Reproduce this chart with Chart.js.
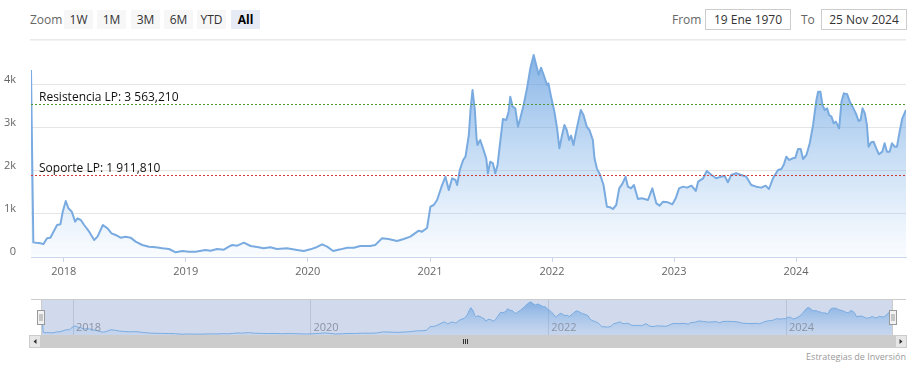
<!DOCTYPE html>
<html><head><meta charset="utf-8">
<script src="https://cdn.jsdelivr.net/npm/chart.js@4.4.1/dist/chart.umd.min.js"></script>
<style>
html,body{margin:0;padding:0;background:#fff;width:921px;height:369px;overflow:hidden;font-family:"Open Sans",sans-serif;}
#wrap{position:relative;width:921px;height:369px;}
.lbl{position:absolute;top:10px;color:#666;font-size:12px;line-height:19px;}
.btn{position:absolute;top:10px;height:19px;width:29px;background:#f7f7f7;color:#333;font-size:12px;line-height:19px;text-align:center;}
.btn.sel{background:#e6ebf5;font-weight:bold;color:#000;}
.inp{position:absolute;top:9px;height:19px;border:1px solid #ccc;color:#333;font-size:12px;line-height:19px;text-align:center;box-sizing:content-box;}
#sep{position:absolute;left:30px;width:876px;top:39px;height:2px;background:linear-gradient(#e4e4e4,#f7f7f7);}
#credit{position:absolute;right:15px;top:350px;font-size:9px;color:#999;}
canvas{position:absolute;left:0;}
</style></head>
<body><div id="wrap">
<div class="lbl" style="left:30px">Zoom</div>
<div class="btn" style="left:64px">1W</div>
<div class="btn" style="left:97px">1M</div>
<div class="btn" style="left:131px">3M</div>
<div class="btn" style="left:164px">6M</div>
<div class="btn" style="left:197px">YTD</div>
<div class="btn sel" style="left:231px">All</div>
<div class="lbl" style="left:672px">From</div>
<div class="inp" style="left:705px;width:84px">19 Ene 1970</div>
<div class="lbl" style="left:801px">To</div>
<div class="inp" style="left:821px;width:84px">25 Nov 2024</div>
<div id="sep"></div>
<canvas id="main" width="921" height="250" style="top:40px"></canvas>
<canvas id="nav" width="921" height="55" style="top:295px"></canvas>
<div id="credit">Estrategias de Inversión</div>
</div>
<script>
// ---- data ----
const dates = [
'2017-09-25','2017-10-02','2017-10-11','2017-10-23','2017-11-01','2017-11-12','2017-11-22','2017-12-12','2017-12-22','2017-12-29',
'2018-01-07','2018-01-15','2018-01-25','2018-02-04','2018-02-11','2018-02-21','2018-03-03','2018-03-18','2018-04-02','2018-04-12',
'2018-04-28','2018-05-12','2018-05-24','2018-06-05','2018-06-20','2018-07-05','2018-07-20','2018-08-04','2018-08-24','2018-09-13',
'2018-10-03','2018-10-23','2018-11-12','2018-12-02','2018-12-22',
'2019-01-10','2019-01-30','2019-03-01','2019-03-16','2019-04-05','2019-04-25','2019-05-10','2019-05-20','2019-06-04','2019-06-24',
'2019-07-14','2019-08-03','2019-08-22','2019-09-11','2019-10-01','2019-10-31','2019-11-30','2019-12-20',
'2020-01-09','2020-01-29','2020-02-13','2020-02-28','2020-03-17','2020-04-08','2020-04-28','2020-05-18','2020-06-06','2020-07-06',
'2020-07-21','2020-08-10','2020-08-30','2020-09-24','2020-10-14','2020-11-03','2020-11-28','2020-12-08','2020-12-23',
'2021-01-02','2021-01-12','2021-01-22','2021-01-27','2021-02-06','2021-02-16','2021-02-26','2021-03-08','2021-03-18','2021-03-23',
'2021-03-31','2021-04-10','2021-04-17','2021-04-27','2021-05-02','2021-05-08','2021-05-15','2021-05-20','2021-05-23','2021-05-31',
'2021-06-10','2021-06-18','2021-06-23','2021-06-30','2021-07-08','2021-07-15','2021-07-22','2021-07-30','2021-08-07','2021-08-17',
'2021-08-24','2021-08-29','2021-09-05','2021-09-13','2021-09-21','2021-09-28','2021-10-08','2021-10-18','2021-10-28','2021-11-07',
'2021-11-17','2021-11-22','2021-11-29','2021-12-07','2021-12-17','2021-12-21','2021-12-29',
'2022-01-08','2022-01-16','2022-01-23','2022-01-31','2022-02-07','2022-02-14','2022-02-21','2022-02-27','2022-03-06','2022-03-16',
'2022-03-28','2022-04-05','2022-04-15','2022-04-23','2022-05-03','2022-05-08','2022-05-15','2022-05-25','2022-06-04','2022-06-14',
'2022-06-24','2022-07-02','2022-07-12','2022-07-21','2022-07-31','2022-08-09','2022-08-16','2022-08-25','2022-09-03','2022-09-15',
'2022-09-26','2022-10-05','2022-10-15','2022-10-28','2022-11-09','2022-11-19','2022-11-29','2022-12-14','2022-12-27',
'2023-01-06','2023-01-16','2023-01-28','2023-02-09','2023-02-22','2023-03-07','2023-03-14','2023-03-29','2023-04-09','2023-04-23',
'2023-05-07','2023-05-22','2023-06-01','2023-06-11','2023-06-21','2023-07-06','2023-07-21','2023-08-05','2023-08-20','2023-09-04',
'2023-09-19','2023-10-02','2023-10-12','2023-10-24','2023-11-08','2023-11-18','2023-11-25','2023-12-03','2023-12-11','2023-12-22','2023-12-30',
'2024-01-07','2024-01-15','2024-01-22','2024-02-01','2024-02-11','2024-02-21','2024-03-02','2024-03-07','2024-03-14','2024-03-20',
'2024-03-27','2024-04-03','2024-04-09','2024-04-16','2024-04-23','2024-04-29','2024-05-09','2024-05-16','2024-05-23','2024-06-02',
'2024-06-10','2024-06-18','2024-06-28','2024-07-06','2024-07-12','2024-07-18','2024-07-25','2024-07-31','2024-08-05','2024-08-13',
'2024-08-20','2024-08-28','2024-09-05','2024-09-15','2024-09-22','2024-09-29','2024-10-07','2024-10-14','2024-10-22','2024-10-29',
'2024-11-06','2024-11-14','2024-11-25'
];
const values = [
4350,340,330,320,300,434,449,744,760,1053,
1302,1132,1054,822,899,860,744,589,395,473,
744,667,550,512,450,473,450,357,279,240,
225,202,186,109,140,
124,124,163,147,186,171,240,279,264,333,
256,233,202,225,186,202,163,140,
178,233,295,240,140,178,217,217,256,256,
279,434,419,372,419,473,612,589,675,
1170,1209,1326,1442,1674,1868,1558,1830,1791,1674,
2023,2256,2333,2837,3419,3884,3419,2760,2605,2721,
2488,2295,1946,2216,2179,1946,2140,2682,3209,3186,
3380,3729,3496,3457,3031,3225,3535,3922,4388,4698,
4388,4233,4403,4233,4000,4039,3729,
3380,2992,2527,2837,3070,2953,2721,2822,2605,2992,
3419,3302,3031,2953,2721,2295,2062,1907,1674,1170,
1155,1116,1209,1597,1713,1868,1636,1597,1674,1349,
1365,1349,1326,1597,1248,1194,1287,1271,1225,
1365,1597,1636,1613,1659,1535,1752,1830,2000,1907,
1830,1868,1891,1737,1907,1946,1907,1868,1674,1636,
1613,1659,1581,1830,2023,2047,2140,2333,2256,2295,2310,
2512,2512,2279,2372,2644,3070,3651,3845,3845,3535,
3419,3457,3302,3263,3109,3147,2992,3612,3806,3783,
3612,3496,3341,3163,3186,3457,3341,3070,2566,2667,
2682,2527,2388,2450,2644,2450,2450,2644,2566,2566,
2914,3225,3419
];
const yearTicks = [2018, 2019, 2020, 2021, 2022, 2023, 2024];
const navYearTicks = [2018, 2020, 2022, 2024];
const yTickValues = [0, 1000, 2000, 3000, 4000];
const yTickLabels = ['0', '1k', '2k', '3k', '4k'];
const levelNames = ['Resistencia LP', 'Soporte LP'];
const levelValues = [3563.21, 1911.81];
const levelColors = ['#4f9a30', '#d03a3a'];

// ---- helpers ----
const FONT = '"Open Sans", sans-serif';
const toTs = s => { const [y, m, d] = s.split('-').map(Number); return Date.UTC(y, m - 1, d); };
const ts = dates.map(toTs);
const points = ts.map((t, i) => ({ x: t, y: values[i] }));
const xMin = ts[0], xMax = ts[ts.length - 1];
function fmtNum(v) {
  const [i, f] = v.toFixed(3).split('.');
  return i.replace(/\B(?=(\d{3})+(?!\d))/g, ' ') + ',' + f;
}

const levelPlugin = {
  id: 'levels',
  afterDatasetsDraw(chart) {
    const { ctx, chartArea: a, scales: { y } } = chart;
    levelValues.forEach((v, i) => {
      const py = Math.round(y.getPixelForValue(v)) + 0.5;
      ctx.save();
      ctx.strokeStyle = levelColors[i];
      ctx.lineWidth = 1;
      ctx.setLineDash([2, 2]);
      ctx.beginPath(); ctx.moveTo(a.left, py); ctx.lineTo(a.right, py); ctx.stroke();
      ctx.setLineDash([]);
      ctx.fillStyle = '#111';
      ctx.font = '12px ' + FONT;
      ctx.textBaseline = 'alphabetic';
      ctx.fillText(levelNames[i] + ': ' + fmtNum(v), a.left + 8, py - 4);
      ctx.restore();
    });
  }
};

new Chart(document.getElementById('main'), {
  type: 'line',
  data: { datasets: [{
    data: points, borderColor: '#7aabe0', borderWidth: 2, pointRadius: 0, tension: 0,
    borderJoinStyle: 'round', fill: 'origin',
    backgroundColor: (c) => {
      const a = c.chart.chartArea; if (!a) return 'rgba(124,181,236,0.4)';
      const g = c.chart.ctx.createLinearGradient(0, a.top, 0, a.bottom);
      g.addColorStop(0, 'rgba(80,145,218,0.72)');
      g.addColorStop(1, 'rgba(124,181,236,0.04)');
      return g;
    }
  }] },
  options: {
    responsive: false, animation: false, events: [],
    layout: { padding: { top: 5, right: 15, left: 0, bottom: 0 } },
    plugins: { legend: { display: false }, tooltip: { enabled: false } },
    scales: {
      x: {
        type: 'linear', min: xMin, max: xMax,
        afterBuildTicks: s => { s.ticks = yearTicks.map(y => ({ value: Date.UTC(y, 0, 1) })); },
        afterFit: s => { s.height = 33; s.paddingLeft = 0; s.paddingRight = 0; },
        ticks: { callback: (v, i) => String(yearTicks[i]), color: '#666', font: { family: FONT, size: 11 }, padding: 3, maxRotation: 0, autoSkip: false },
        grid: { display: true, drawOnChartArea: false, drawTicks: true, tickLength: 5, color: '#ccd6eb' },
        border: { display: true, color: '#ccd6eb' }
      },
      y: {
        min: 0, max: 4930,
        afterBuildTicks: s => { s.ticks = yTickValues.map(v => ({ value: v })); },
        afterFit: s => { s.width = 31; s.paddingTop = 0; s.paddingBottom = 0; },
        ticks: { callback: (v, i) => yTickLabels[i], color: '#666', font: { family: FONT, size: 11 }, padding: 15, labelOffset: -5 },
        grid: { color: '#e6e6e6', drawTicks: false },
        border: { display: false }
      }
    }
  },
  plugins: [levelPlugin]
});

// ---- navigator ----
const navPlugin = {
  id: 'nav',
  beforeDatasetsDraw(chart) {
    const { ctx, chartArea: a, scales: { x } } = chart;
    ctx.save();
    ctx.fillStyle = 'rgba(102,133,194,0.3)';
    ctx.fillRect(a.left, a.top, a.right - a.left, a.bottom - a.top);
    ctx.strokeStyle = 'rgba(80,90,120,0.18)';
    ctx.lineWidth = 1;
    navYearTicks.forEach(y => {
      const px = Math.round(x.getPixelForValue(Date.UTC(y, 0, 1))) + 0.5;
      ctx.beginPath(); ctx.moveTo(px, a.top); ctx.lineTo(px, a.bottom); ctx.stroke();
    });
    ctx.restore();
  },
  afterDatasetsDraw(chart) {
    const { ctx, chartArea: a, scales: { x } } = chart;
    ctx.save();
    ctx.fillStyle = '#8a93a6';
    ctx.font = '11px ' + FONT;
    ctx.textBaseline = 'alphabetic';
    navYearTicks.forEach(y => {
      const px = x.getPixelForValue(Date.UTC(y, 0, 1));
      ctx.fillText(String(y), px + 3, a.bottom - 4);
    });
    // outline
    ctx.strokeStyle = '#cccccc'; ctx.lineWidth = 1;
    ctx.beginPath();
    ctx.moveTo(31, a.top + 0.5); ctx.lineTo(906, a.top + 0.5);
    ctx.moveTo(a.left + 0.5, a.top); ctx.lineTo(a.left + 0.5, a.bottom);
    ctx.moveTo(a.right - 0.5, a.top); ctx.lineTo(a.right - 0.5, a.bottom);
    ctx.stroke();
    // handles
    [a.left, a.right].forEach(hx => {
      const l = Math.round(hx - 4) + 0.5, t = a.top + 11.5;
      ctx.fillStyle = '#f2f2f2'; ctx.strokeStyle = '#999';
      ctx.fillRect(l, t, 7, 14); ctx.strokeRect(l, t, 7, 14);
      ctx.beginPath();
      ctx.moveTo(l + 2.5, t + 3.5); ctx.lineTo(l + 2.5, t + 10.5);
      ctx.moveTo(l + 4.5, t + 3.5); ctx.lineTo(l + 4.5, t + 10.5);
      ctx.stroke();
    });
    // scrollbar
    const sy = a.bottom, sh = 13;
    ctx.fillStyle = '#cccccc';
    ctx.fillRect(29, sy, 878, sh);
    ctx.fillStyle = '#e6e6e6';
    ctx.fillRect(29, sy, 12, sh);
    ctx.fillRect(895, sy, 12, sh);
    ctx.strokeStyle = '#cccccc';
    ctx.strokeRect(29.5, sy + 0.5, 11, sh - 1);
    ctx.strokeRect(895.5, sy + 0.5, 11, sh - 1);
    ctx.fillStyle = '#333';
    ctx.beginPath(); ctx.moveTo(33.5, sy + 6.5); ctx.lineTo(36.5, sy + 4); ctx.lineTo(36.5, sy + 9); ctx.closePath(); ctx.fill();
    ctx.beginPath(); ctx.moveTo(902.5, sy + 6.5); ctx.lineTo(899.5, sy + 4); ctx.lineTo(899.5, sy + 9); ctx.closePath(); ctx.fill();
    ctx.strokeStyle = '#333';
    ctx.beginPath();
    [463.5, 465.5, 467.5].forEach(rx => { ctx.moveTo(rx, sy + 4); ctx.lineTo(rx, sy + 9); });
    ctx.stroke();
    ctx.restore();
  }
};

new Chart(document.getElementById('nav'), {
  type: 'line',
  data: { datasets: [{
    data: points, borderColor: '#7aabe0', borderWidth: 1, pointRadius: 0, tension: 0, fill: 'origin',
    backgroundColor: (c) => {
      const a = c.chart.chartArea; if (!a) return 'rgba(124,181,236,0.4)';
      const g = c.chart.ctx.createLinearGradient(0, a.top, 0, a.bottom);
      g.addColorStop(0, 'rgba(90,150,220,0.7)');
      g.addColorStop(1, 'rgba(124,181,236,0.1)');
      return g;
    }
  }] },
  options: {
    responsive: false, animation: false, events: [],
    layout: { padding: { left: 41, right: 28, top: 4, bottom: 15 } },
    plugins: { legend: { display: false }, tooltip: { enabled: false } },
    scales: {
      x: { type: 'linear', display: false, min: xMin, max: xMax },
      y: { display: false, min: 0, max: 5100 }
    }
  },
  plugins: [navPlugin]
});
</script>
</body></html>
